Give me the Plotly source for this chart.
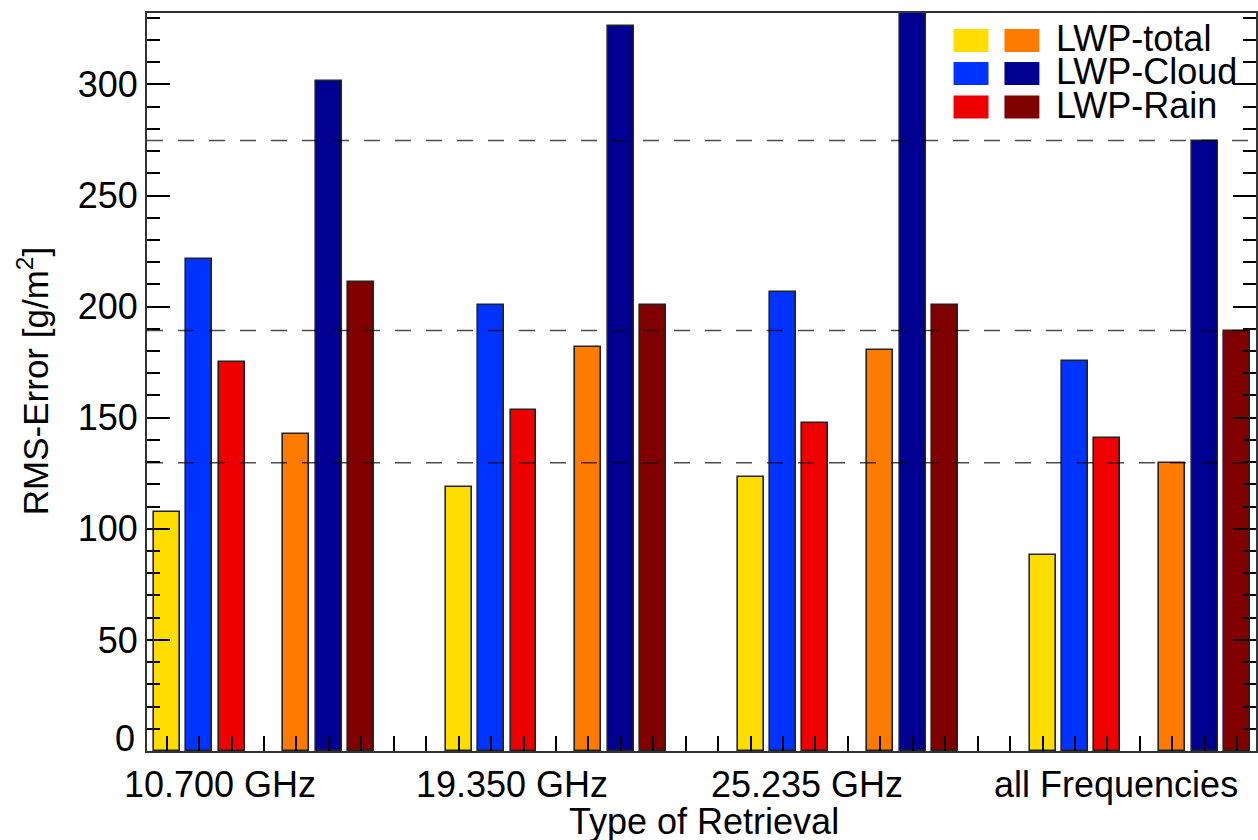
import plotly.graph_objects as go

# Retrieval types (one group of bars each)
groups = ["10.700 GHz", "19.350 GHz", "25.235 GHz", "all Frequencies"]
series_names = ["LWP-total", "LWP-Cloud", "LWP-Rain"]

# First set of retrievals (light colours), RMS error in g/m^2
total_a = [107.7, 118.8, 123.2, 88.1]
cloud_a = [221.4, 200.6, 206.6, 175.5]
rain_a = [175.2, 153.5, 147.7, 140.7]

# Second set of retrievals (dark colours)
total_b = [142.8, 182.0, 180.3, 129.7]
cloud_b = [301.7, 326.4, 345.0, 274.7]
rain_b = [211.2, 200.6, 200.7, 189.2]

y_ticks = [50, 100, 150, 200, 250, 300]

colors_a = ["#FFDD00", "#0033FF", "#EE0000"]
colors_b = ["#FF7B00", "#000090", "#800000"]

FONT = "Liberation Sans, Arial, Helvetica, sans-serif"
W, H = 1258, 840
ML, MR, MT, MB = 147, 0, 13, 89
PW, PH = W - ML - MR, H - MT - MB

SLOTS_PER_GROUP = 9
n_slots = SLOTS_PER_GROUP * len(groups) - 2


def px_x(px):
    return (px - ML) / PW


def px_y(py):
    return (H - MB - py) / PH


fig = go.Figure()

set_a = [total_a, cloud_a, rain_a]
set_b = [total_b, cloud_b, rain_b]
for k, (vals, col) in enumerate(zip(set_a, colors_a)):
    fig.add_trace(go.Bar(
        x=[SLOTS_PER_GROUP * g + k for g in range(len(groups))], y=vals,
        width=0.8, marker=dict(color=col, line=dict(color="#222222", width=1.6)),
        name=series_names[k], showlegend=False))
for k, (vals, col) in enumerate(zip(set_b, colors_b)):
    fig.add_trace(go.Bar(
        x=[SLOTS_PER_GROUP * g + 4 + k for g in range(len(groups))], y=vals,
        width=0.8, marker=dict(color=col, line=dict(color="#222222", width=1.6)),
        name=series_names[k], showlegend=False))

# dashed reference lines at the all-frequency values of the second set
shapes = []
for v in [total_b[-1], cloud_b[-1], rain_b[-1]]:
    shapes.append(dict(type="line", xref="paper", yref="y", x0=0, x1=1, y0=v, y1=v,
                       line=dict(color="rgba(0,0,0,0.7)", width=1.5, dash="16px,15px"),
                       layer="above"))

# two-column legend: swatch pairs plus label
annotations = []
row_centers = [40.5, 73.5, 107]
for i, name in enumerate(series_names):
    yc = row_centers[i]
    for x0, col in [(955, colors_a[i]), (1006, colors_b[i])]:
        shapes.append(dict(type="rect", xref="paper", yref="paper",
                           x0=px_x(x0), x1=px_x(x0 + 35),
                           y0=px_y(yc + 11.5), y1=px_y(yc - 11.5),
                           fillcolor=col, line=dict(width=0), layer="above"))
    annotations.append(dict(text=name, xref="paper", yref="paper",
                            x=px_x(1056), y=px_y(yc - 2), xanchor="left", yanchor="middle",
                            showarrow=False, font=dict(size=36, color="black", family=FONT)))

# group labels under the axis
label_pos = [1.64, 10.66, 19.73, 29.27]
for pos, name in zip(label_pos, groups):
    annotations.append(dict(text=name, xref="x", yref="paper", x=pos, y=px_y(784),
                            xanchor="center", yanchor="middle", showarrow=False,
                            font=dict(size=36, color="black", family=FONT)))

# zero label sits on the axis line
annotations.append(dict(text="0", xref="paper", yref="y", x=0, y=0, xanchor="right",
                        yanchor="bottom", xshift=-10, yshift=-10, showarrow=False,
                        font=dict(size=36, color="black", family=FONT)))

annotations.append(dict(text="Type of Retrieval", xref="paper", yref="paper",
                        x=px_x(705), y=px_y(822), xanchor="center", yanchor="middle",
                        showarrow=False, font=dict(size=36, color="black", family=FONT)))
annotations.append(dict(text="RMS-Error [g/m<sup>2</sup>]", xref="paper", yref="paper",
                        x=px_x(33), y=px_y(381), xanchor="center", yanchor="middle",
                        textangle=-90, showarrow=False,
                        font=dict(size=35, color="black", family=FONT)))

fig.update_layout(
    width=W, height=H, margin=dict(l=ML, r=MR, t=MT, b=MB),
    paper_bgcolor="white", plot_bgcolor="white",
    barmode="overlay", bargap=0,
    shapes=shapes, annotations=annotations, showlegend=False,
    font=dict(family=FONT, color="black"),
)
fig.update_xaxes(
    range=[-0.606, 33.58], tickvals=list(range(n_slots)), showticklabels=False,
    ticks="inside", ticklen=15, tickwidth=1.5, tickcolor="black",
    showline=True, linecolor="#333333", linewidth=2, mirror=True,
    showgrid=False, zeroline=False,
)
fig.update_yaxes(
    range=[0, PH / 2.222], tickvals=y_ticks,
    ticks="inside", ticklen=23, tickwidth=1.5, tickcolor="black",
    minor=dict(dtick=10, tick0=0, ticks="inside", ticklen=13, tickwidth=1.5,
               tickcolor="black", showgrid=False),
    tickfont=dict(size=36, color="black", family=FONT),
    showline=True, linecolor="#333333", linewidth=2, mirror="ticks",
    showgrid=False, zeroline=False,
)

fig.write_html("out.html")
